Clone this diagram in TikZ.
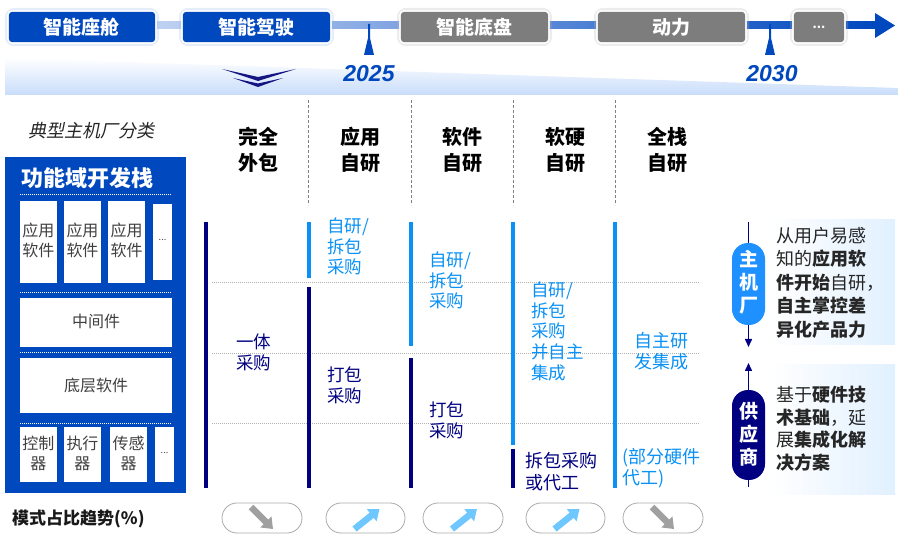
\documentclass[tikz,border=0pt]{standalone}
\usepackage{fontspec}
\setmainfont{Noto Sans CJK SC}[AutoFakeSlant=0.2]
\newfontfamily\yearfont{Liberation Sans}
\usetikzlibrary{arrows.meta,calc}
\definecolor{dblue}{RGB}{0,72,190}
\definecolor{navy}{RGB}{0,0,128}
\definecolor{lblue}{RGB}{10,145,245}
\definecolor{pillblue}{RGB}{30,144,255}
\definecolor{boxgray}{RGB}{125,125,125}
\definecolor{tgray}{RGB}{64,64,64}
\definecolor{pgray}{RGB}{170,170,170}
\definecolor{tblue}{RGB}{110,200,255}
\definecolor{agray}{RGB}{160,160,160}
\definecolor{chev}{RGB}{20,20,130}
\definecolor{bandblue}{RGB}{200,220,250}
\definecolor{bgblue}{RGB}{225,240,255}
\definecolor{glowblue}{RGB}{150,180,235}
\tikzset{
  topbox/.style={draw=white, line width=1.2pt, rounded corners=4pt},
  toptxt/.style={text=white, font=\fontsize{19}{21}\selectfont\bfseries},
  hdr/.style={align=center, font=\fontsize{20}{26}\selectfont\bfseries},
  bodytxt/.style={anchor=north west, align=left, inner sep=0pt, font=\fontsize{17.5}{20.7}\selectfont},
  boxtxt/.style={text=tgray, align=center, inner sep=0pt, font=\fontsize{16}{20}\selectfont},
  bar/.style={line width=4pt},
  trendpill/.style={draw=pgray, fill=white, rounded corners=15pt, line width=0.8pt},
  uparr/.style={line width=6.5pt, draw=tblue, -{Triangle[length=10pt,width=15pt]}},
  downarr/.style={line width=6.5pt, draw=agray, -{Triangle[length=10pt,width=15pt]}},
  colsep/.style={draw=gray, dash pattern=on 3pt off 2pt, line width=0.8pt},
  hdot/.style={draw=black!30, dash pattern=on 1pt off 1pt, line width=0.6pt},
  wdot/.style={draw=white, dash pattern=on 1pt off 1pt, line width=0.7pt},
  sidetxt/.style={anchor=north west, align=left, inner sep=0pt, text=black!85, font=\fontsize{18}{23.5}\selectfont},
  pilltxt/.style={text=white, align=center, inner sep=0pt, font=\fontsize{19}{23}\selectfont\bfseries}
}
\begin{document}
\begin{tikzpicture}[x=1pt,y=-1pt]
\useasboundingbox (0,0) rectangle (898,537);

% ---------- gradient band ----------
\shade[top color=white, bottom color=bandblue] (5,58) -- (898,88) -- (898,95) -- (5,95) -- cycle;

% ---------- timeline bar ----------
\shade[left color=glowblue!60, right color=dblue] (156,22) rectangle (878,29);
\fill[dblue] (875,13) -- (895,25.5) -- (875,38) -- cycle;

% glows
\foreach \a/\b/\c in {8/156/glowblue,182/331/glowblue,400/549/black!30,597/746/black!30,793/845/black!30}{
  \draw[\c, opacity=0.25, line width=6pt, rounded corners=6pt] (\a,11) rectangle (\b,43);
}
\fill[dblue, topbox] (8,11) rectangle (156,43);
\fill[dblue, topbox] (182,11) rectangle (331,43);
\fill[boxgray, topbox] (400,11) rectangle (549,43);
\fill[boxgray, topbox] (597,11) rectangle (746,43);
\fill[boxgray, topbox] (793,11) rectangle (845,43);
\draw[topbox] (8,11) rectangle (156,43);
\draw[topbox] (182,11) rectangle (331,43);
\draw[topbox] (400,11) rectangle (549,43);
\draw[topbox] (597,11) rectangle (746,43);
\draw[topbox] (793,11) rectangle (845,43);
\node[toptxt] (t1) at (81,27) {智能座舱};
\node[toptxt] (t2) at (256.5,27) {智能驾驶};
\node[toptxt] (t3) at (474.5,27) {智能底盘};
\node[toptxt] (t4) at (671.5,27) {动力};
\node[toptxt, font=\fontsize{12}{14}\selectfont\bfseries] (t5) at (819,27) {...};

% year markers
\fill[dblue] (368,24) -- (370,24) -- (370,38) -- (374,55) -- (364,55) -- (368,38) -- cycle;
\fill[dblue] (769,24) -- (771,24) -- (771,38) -- (775,55) -- (765,55) -- (769,38) -- cycle;
\node[text=dblue, font=\yearfont\fontsize{23}{25}\selectfont\bfseries\itshape] (y1) at (369,74) {2025};
\node[text=dblue, font=\yearfont\fontsize{23}{25}\selectfont\bfseries\itshape] (y2) at (772,74) {2030};

% chevrons
\fill[chev] (222,69) -- (258,77) -- (296,69) -- (258,81) -- cycle;
\fill[chev] (233,78) -- (258,83.5) -- (283,78) -- (258,87) -- cycle;

% ---------- left panel ----------
\node[text=black!85, font=\fontsize{18}{20}\selectfont\itshape] (cls) at (91,131) {典型主机厂分类};
\fill[dblue] (5,157) rectangle (186,493);
\node[anchor=west, text=white, inner sep=0pt, font=\fontsize{22}{24}\selectfont\bfseries] (stack) at (21,178) {功能域开发栈};
\foreach \yy in {194,292,352,423}{ \draw[wdot] (20,\yy) -- (172,\yy); }
\fill[white] (20,201) rectangle (57,283);
\fill[white] (64,201) rectangle (101,283);
\fill[white] (108,201) rectangle (145,283);
\fill[white] (153,204) rectangle (172,280);
\node[boxtxt] (a1) at (38.5,240) {应用\\软件};
\node[boxtxt] (a2) at (82.5,240) {应用\\软件};
\node[boxtxt] (a3) at (126.5,240) {应用\\软件};
\node[boxtxt, font=\fontsize{9}{10}\selectfont] (a4) at (162.5,240) {...};
\fill[white] (20,298) rectangle (172,347);
\node[boxtxt] (mid) at (96,321) {中间件};
\fill[white] (20,358) rectangle (172,413);
\node[boxtxt] (low) at (96,385) {底层软件};
\fill[white] (20,427) rectangle (57,482);
\fill[white] (64,427) rectangle (101,482);
\fill[white] (110,427) rectangle (147,482);
\fill[white] (155,427) rectangle (174,482);
\node[boxtxt] (b1) at (38.5,453) {控制\\器};
\node[boxtxt] (b2) at (82.5,453) {执行\\器};
\node[boxtxt] (b3) at (128.5,453) {传感\\器};
\node[boxtxt, font=\fontsize{9}{10}\selectfont] (b4) at (164.5,453) {...};
\node[anchor=west, inner sep=0pt, text=black!90, font=\fontsize{17}{20}\selectfont\bfseries] (trendlbl) at (12,519) {模式占比趋势(\%)};

% ---------- columns ----------
\foreach \xx in {308,411,513,615}{ \draw[colsep] (\xx,100) -- (\xx,205); }
\foreach \yy in {282,353,423}{ \draw[hdot] (212,\yy) -- (700,\yy); }
\node[hdr] (h1) at (258,149.5) {完全\\外包};
\node[hdr] (h2) at (360,149.5) {应用\\自研};
\node[hdr] (h3) at (462,149.5) {软件\\自研};
\node[hdr] (h4) at (565,149.5) {软硬\\自研};
\node[hdr] (h5) at (667,149.5) {全栈\\自研};

% bars
\draw[bar, navy] (206,222) -- (206,488);
\draw[bar, lblue] (309,222) -- (309,278);
\draw[bar, navy] (309,287) -- (309,488);
\draw[bar, lblue] (411,222) -- (411,346);
\draw[bar, navy] (411,358) -- (411,488);
\draw[bar, lblue] (513,222) -- (513,445);
\draw[bar, navy] (513,449) -- (513,488);
\draw[bar, lblue] (615,222) -- (615,488);

% column texts
\node[bodytxt, text=navy] (c1a) at (236,333.5) {一体\\采购};
\node[bodytxt, text=lblue] (c2a) at (327,217.5) {自研/\\拆包\\采购};
\node[bodytxt, text=navy] (c2b) at (327,366.5) {打包\\采购};
\node[bodytxt, text=lblue] (c3a) at (429,251.5) {自研/\\拆包\\采购};
\node[bodytxt, text=navy] (c3b) at (429,401.5) {打包\\采购};
\node[bodytxt, text=lblue] (c4a) at (531,281.5) {自研/\\拆包\\采购\\并自主\\集成};
\node[bodytxt, text=navy, font=\fontsize{18}{22}\selectfont] (c4b) at (525,452) {拆包采购\\或代工};
\node[bodytxt, anchor=north, align=center, text=lblue, font=\fontsize{18}{21}\selectfont] (c5a) at (661,332) {自主研\\发集成};
\node[bodytxt, text=lblue, font=\fontsize{18}{21}\selectfont] (c5b) at (622,448) {(部分硬件\\代工)};

% trend pills
\foreach \l/\r in {222/302,326/405,423/503,526/605,623/703}{
  \draw[trendpill] (\l,503) rectangle (\r,533);
}
\coordinate (p1) at (262,518);
\coordinate (p2) at (365.5,518);
\coordinate (p3) at (463,518);
\coordinate (p4) at (565.5,518);
\coordinate (p5) at (663,518);
\draw[downarr] ($(p1)+(-11,-11)$) -- ($(p1)+(11,11)$);
\draw[uparr] ($(p2)+(-11,11)$) -- ($(p2)+(14,-9)$);
\draw[uparr] ($(p3)+(-11,11)$) -- ($(p3)+(14,-9)$);
\draw[uparr] ($(p4)+(-11,11)$) -- ($(p4)+(14,-9)$);
\draw[downarr] ($(p5)+(-11,-11)$) -- ($(p5)+(11,11)$);

% ---------- right side ----------
\shade[left color=white, right color=bgblue] (770,220) rectangle (895,345);
\shade[left color=white, right color=bgblue] (770,365) rectangle (895,495);
\coordinate (m1) at (748.5,222);
\coordinate (m2) at (748.5,347);
\draw[navy, line width=1.5pt, -{Triangle[length=8pt,width=7pt]}] (m1) -- (m2);
\node[fill=pillblue, rounded corners=16pt, minimum width=33pt, minimum height=82pt, inner sep=0pt] (oem) at (748.5,284) {};
\node[pilltxt] (oemtxt) at (748.5,282) {主\\机\\厂};
\coordinate (s1) at (748.5,487);
\coordinate (s2) at (748.5,363);
\draw[navy, line width=1.5pt, -{Triangle[length=8pt,width=7pt]}] (s1) -- (s2);
\node[fill=navy, rounded corners=16pt, minimum width=33pt, minimum height=90pt, inner sep=0pt] (sup) at (748.5,435) {};
\node[pilltxt] (suptxt) at (748.5,434) {供\\应\\商};
\node[sidetxt] (r1) at (776,227) {从用户易感\\知的\textbf{应用软}\\\textbf{件开始}自研，\\\textbf{自主掌控差}\\\textbf{异化产品力}};
\node[sidetxt, font=\fontsize{18}{22.7}\selectfont] (r2) at (776,386) {基于\textbf{硬件技}\\\textbf{术基础}，延\\展\textbf{集成化解}\\\textbf{决方案}};
\end{tikzpicture}
\end{document}
